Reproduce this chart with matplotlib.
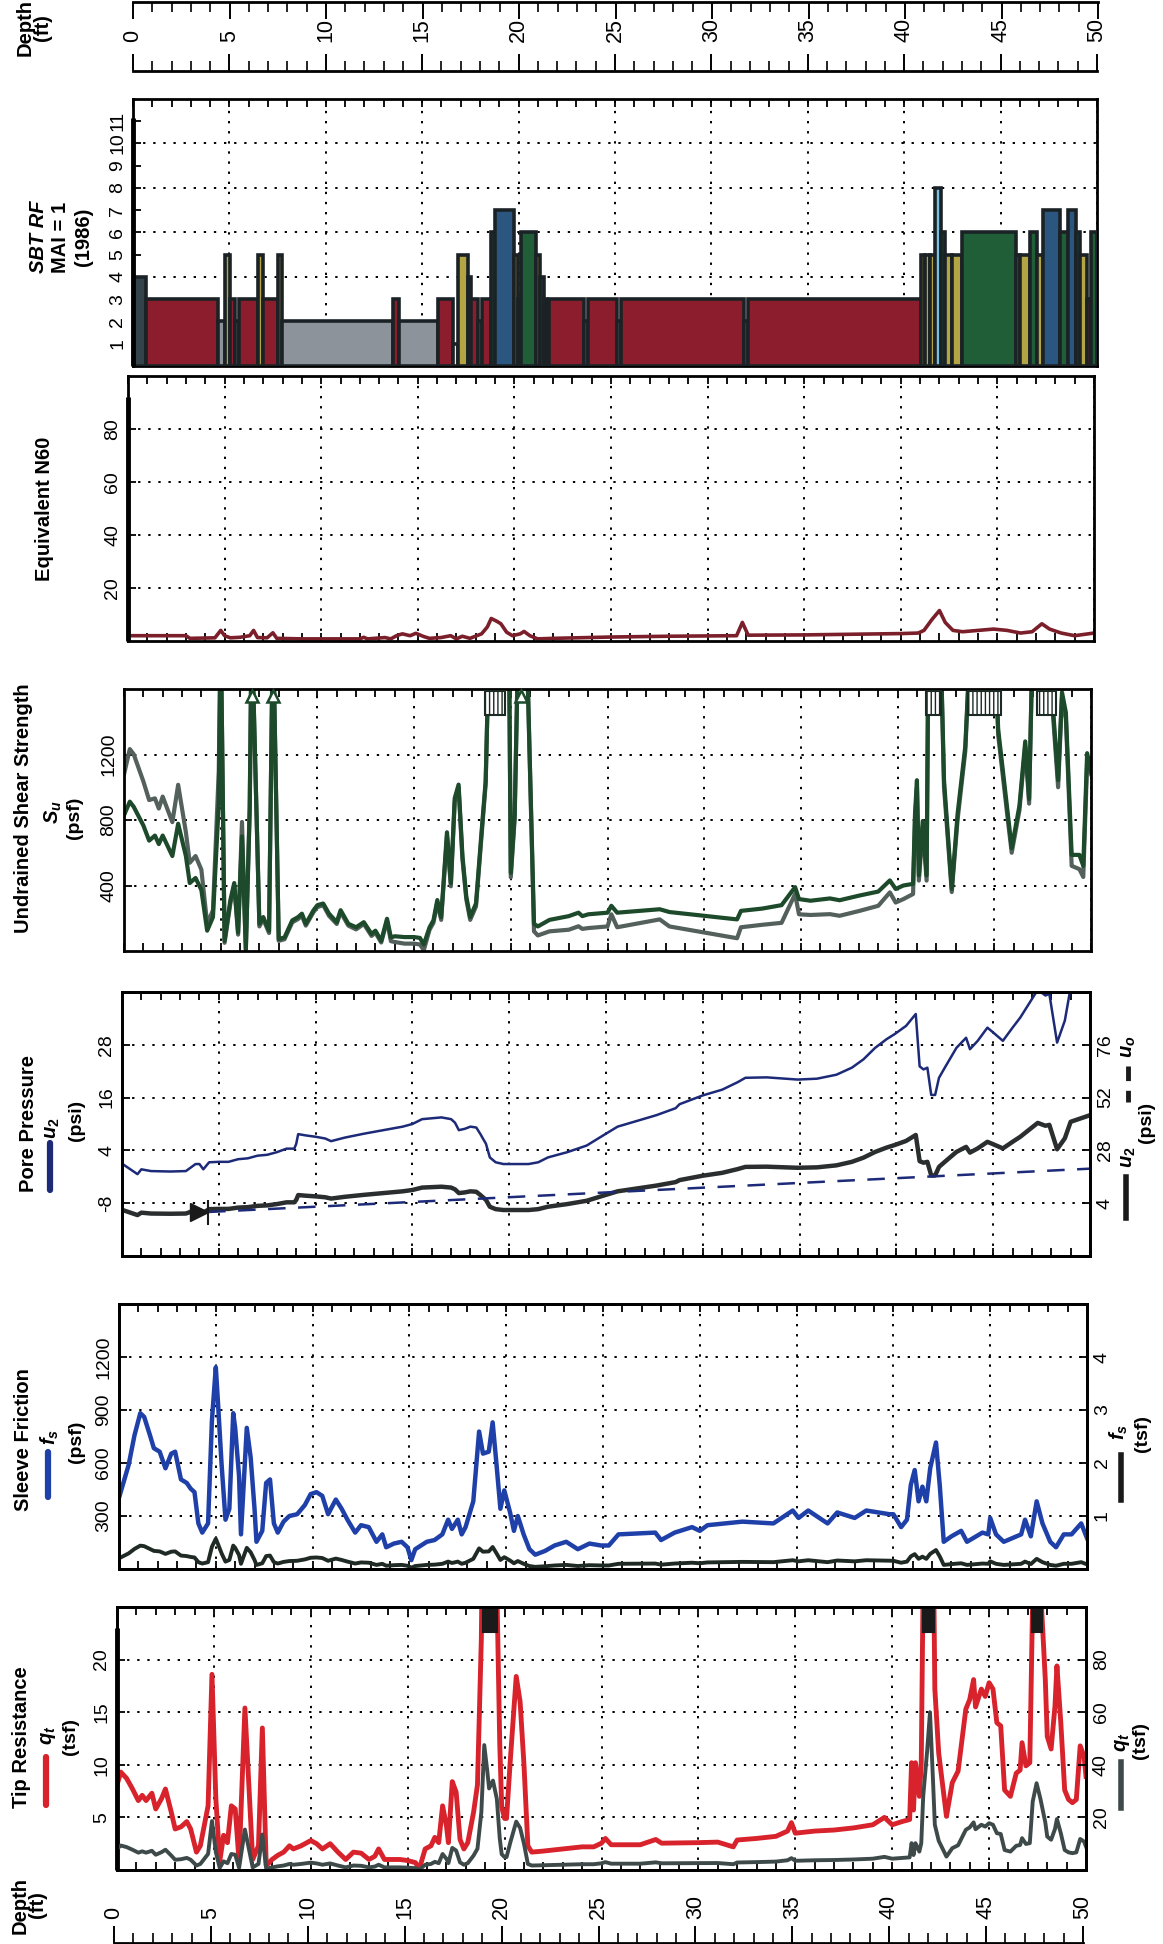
import numpy as np
import matplotlib.pyplot as plt
from matplotlib.ticker import MultipleLocator
from matplotlib.patches import Rectangle
from matplotlib.lines import Line2D

plt.rcParams['font.family'] = ['Liberation Sans', 'DejaVu Sans']
plt.rcParams['axes.unicode_minus'] = False
plt.rcParams['mathtext.fontset'] = 'custom'
plt.rcParams['mathtext.it'] = 'Liberation Sans:italic:bold'
plt.rcParams['mathtext.rm'] = 'Liberation Sans:bold'
plt.rcParams['mathtext.bf'] = 'Liberation Sans:bold'

### data (depth in ft) ###

# tip resistance qt (tsf)
qt_depth = [0, 0.2, 0.5, 0.8, 1.1, 1.3, 1.5, 1.8, 2.0, 2.3,
            2.5, 2.8, 3.0, 3.3, 3.6, 3.8, 4.1, 4.3, 4.5, 4.7,
            4.9, 5.1, 5.3, 5.5, 5.7, 5.9, 6.1, 6.3, 6.5, 6.6,
            6.8, 7.0, 7.3, 7.5, 7.7, 8.0, 8.3, 8.6, 8.9, 9.1,
            9.5, 9.8, 10.0, 10.3, 10.6, 11.0, 11.4, 11.8, 12.2, 12.6,
            13.0, 13.3, 13.5, 13.8, 14.2, 14.6, 15.0, 15.4, 15.6, 15.9,
            16.2, 16.4, 16.6, 16.8, 17.0, 17.1, 17.3, 17.5, 17.7, 17.9,
            18.1, 18.4, 18.6, 18.8, 18.95, 19.1, 19.2, 19.4, 19.6, 19.75,
            19.85, 20.0, 20.1, 20.3, 20.6, 20.8, 21.0, 21.2, 21.4, 22.0,
            23.0, 24.0, 24.6, 25.0, 25.2, 25.5, 27.0, 27.8, 28.1, 30.0,
            31.0, 31.8, 32.0, 33.0, 34.0, 34.6, 34.8, 35.0, 36.0, 37.0,
            38.0, 39.0, 39.6, 40.0, 40.5, 40.9, 41.0, 41.1, 41.2, 41.4,
            41.5, 41.6, 41.8, 41.95, 42.1, 42.2, 42.4, 42.8, 43.1, 43.4,
            43.8, 44.0, 44.2, 44.3, 44.6, 44.8, 45.0, 45.2, 45.4, 45.6,
            45.8, 46.1, 46.4, 46.6, 46.7, 46.9, 47.1, 47.25, 47.45, 47.65,
            47.9, 48.0, 48.2, 48.4, 48.5, 48.7, 48.9, 49.1, 49.3, 49.5,
            49.7, 49.9, 50.0]
qt_tsf = [8.1, 9.3, 8.7, 7.7, 6.6, 7.1, 6.6, 7.3, 5.8, 6.8,
          7.7, 5.5, 3.9, 4.1, 4.6, 3.9, 1.7, 2.3, 4.2, 6.1,
          18.6, 6.8, 0.8, 3.3, 2.6, 6.1, 5.8, 0.8, 10.6, 15.4,
          8.1, 1.0, 2.3, 13.5, 0.4, 1.0, 1.4, 1.7, 2.3, 2.0,
          2.3, 2.6, 2.8, 2.5, 2.0, 2.5, 1.7, 1.0, 1.7, 1.6,
          1.0, 1.3, 2.0, 1.0, 1.0, 1.0, 0.9, 0.7, 0.1, 2.0,
          2.3, 3.1, 2.6, 6.1, 4.2, 2.6, 8.4, 7.4, 2.9, 2.0,
          2.6, 5.5, 8.1, 22.0, 47.5, 38.0, 31.0, 34.0, 27.0, 12.0,
          6.0, 4.9, 4.9, 10.6, 18.4, 16.0, 10.0, 2.3, 1.7, 1.8,
          2.0, 2.2, 2.2, 2.55, 3.0, 2.4, 2.4, 2.9, 2.55, 2.6,
          2.65, 2.2, 2.85, 3.0, 3.2, 3.7, 4.5, 3.5, 3.7, 3.8,
          4.0, 4.3, 5.0, 4.3, 4.6, 4.8, 10.2, 5.7, 10.2, 7.0,
          10.2, 28.0, 45.0, 60.0, 35.0, 17.2, 11.1, 5.1, 8.3, 9.4,
          15.3, 16.2, 18.1, 15.5, 17.2, 16.5, 17.8, 17.2, 14.0, 13.7,
          7.6, 7.0, 9.2, 9.5, 12.1, 9.9, 10.2, 26.0, 33.0, 27.0,
          18.1, 12.7, 11.5, 15.6, 19.4, 14.0, 7.6, 6.7, 6.4, 6.7,
          11.8, 10.8, 8.9]
qt_offscale = [(18.9, 19.6), (41.6, 42.15), (47.2, 47.75)]

# sleeve friction fs (psf)
fs_depth = [0, 0.5, 0.8, 1.1, 1.3, 1.6, 1.8, 2.1, 2.4, 2.7,
            2.9, 3.2, 3.5, 3.7, 3.9, 4.1, 4.3, 4.6, 4.8, 5.0,
            5.1, 5.3, 5.5, 5.7, 5.9, 6.0, 6.2, 6.3, 6.6, 6.8,
            7.0, 7.1, 7.4, 7.6, 7.8, 8.0, 8.2, 8.5, 8.8, 9.2,
            9.6, 9.9, 10.2, 10.5, 10.8, 11.2, 11.5, 11.8, 12.2, 12.5,
            12.9, 13.3, 13.6, 13.8, 14.2, 14.6, 14.9, 15.1, 15.3, 15.6,
            15.9, 16.3, 16.7, 17.0, 17.2, 17.5, 17.7, 17.9, 18.3, 18.6,
            18.8, 19.1, 19.3, 19.5, 19.7, 19.9, 20.0, 20.2, 20.4, 20.6,
            20.9, 21.2, 21.5, 22.0, 22.5, 23.1, 23.7, 24.3, 24.9, 25.3,
            25.8, 27.7, 28.0, 28.7, 29.6, 30.0, 30.4, 32.2, 33.8, 34.8,
            35.1, 35.6, 36.6, 37.1, 38.0, 38.6, 39.8, 40.0, 40.4, 40.7,
            40.9, 41.1, 41.3, 41.5, 41.7, 41.9, 42.2, 42.4, 42.6, 43.0,
            43.5, 43.8, 44.6, 44.9, 45.0, 45.3, 45.7, 46.6, 46.8, 47.1,
            47.4, 47.7, 48.1, 48.4, 48.8, 49.2, 49.7, 50.0]
fs_psf = [403, 590, 757, 882, 861, 757, 684, 664, 570, 653,
          664, 507, 487, 455, 435, 258, 206, 258, 840, 1142,
          965, 590, 279, 341, 882, 799, 528, 196, 799, 632,
          341, 154, 216, 487, 507, 258, 206, 268, 300, 310,
          362, 424, 435, 414, 310, 393, 341, 279, 206, 248,
          237, 154, 196, 123, 144, 154, 123, 50, 112, 133,
          154, 164, 196, 279, 227, 279, 196, 237, 383, 778,
          653, 664, 830, 591, 341, 445, 403, 320, 216, 300,
          196, 112, 81, 102, 133, 154, 112, 144, 133, 133,
          196, 206, 164, 206, 237, 216, 248, 268, 258, 331,
          289, 331, 258, 320, 289, 331, 310, 310, 237, 279,
          476, 560, 383, 466, 383, 570, 716, 466, 154, 185,
          216, 154, 206, 196, 289, 196, 154, 196, 279, 185,
          383, 258, 154, 123, 196, 196, 258, 175]

# pore pressure u2 (psi) and hydrostatic u0
u2_depth = [0, 0.3, 0.8, 1.0, 1.5, 2.5, 3.3, 3.8, 4.0, 4.2,
            4.5, 5.0, 5.5, 6.0, 6.5, 7.0, 7.5, 8.0, 8.5, 8.9,
            9.0, 9.1, 9.5, 10.0, 10.5, 10.8, 11.5, 12.5, 13.5, 14.5,
            15.0, 15.5, 16.0, 16.5, 17.0, 17.2, 17.4, 17.7, 18.0, 18.3,
            18.5, 18.8, 19.0, 19.3, 19.7, 20.5, 21.0, 21.5, 22.0, 23.0,
            24.0, 25.0, 25.6, 26.6, 27.6, 28.6, 28.8, 30.0, 31.0, 31.8,
            32.2, 33.3, 34.9, 35.9, 36.9, 37.7, 38.3, 38.9, 39.5, 39.9,
            40.5, 41.0, 41.2, 41.4, 41.6, 41.8, 42.0, 42.2, 42.5, 43.1,
            43.6, 43.8, 44.2, 44.7, 45.0, 45.5, 46.0, 46.4, 46.9, 47.3,
            47.7, 47.9, 48.3, 48.7, 49.0, 50.0]
u2_psi = [1.0, 0.1, -1.4, -0.3, -0.7, -0.8, -0.7, 0.9, 0.9, -0.3,
          1.3, 1.4, 1.4, 2.0, 2.2, 2.8, 3.0, 3.6, 4.4, 4.4,
          5.5, 7.7, 7.4, 7.1, 6.7, 6.1, 6.9, 7.8, 8.6, 9.4,
          10.0, 11.1, 11.3, 11.5, 11.1, 10.3, 8.6, 8.9, 9.4, 9.2,
          7.8, 5.5, 2.4, 1.3, 0.9, 0.9, 0.9, 1.3, 2.4, 3.6,
          5.1, 7.8, 9.4, 10.7, 12.0, 13.6, 14.5, 16.5, 17.8, 19.5,
          20.5, 20.6, 20.1, 20.3, 21.2, 22.8, 24.7, 27.3, 29.3, 30.4,
          32.3, 35.0, 23.1, 22.4, 22.8, 16.6, 16.6, 20.5, 22.8, 27.3,
          29.6, 27.0, 28.9, 31.9, 30.8, 28.9, 31.9, 34.2, 37.7, 40.5,
          39.2, 39.6, 28.5, 33.5, 41.0, 44.0]
u0_depth = [4.45, 50.0]
u0_psi = [0.0, 19.7]
water_table = 4.45

# undrained shear strength Su (psf), two estimates
su_depth = [0, 0.3, 0.5, 1.0, 1.3, 1.6, 1.8, 2.0, 2.5, 2.8,
            3.2, 3.4, 3.7, 4.0, 4.3, 4.6, 4.9, 5.0, 5.2, 5.5,
            5.7, 5.9, 6.1, 6.3, 6.5, 6.6, 7.0, 7.2, 7.5, 7.7,
            8.0, 8.3, 8.7, 9.0, 9.2, 9.4, 9.8, 10.0, 10.3, 10.6,
            11.0, 11.2, 11.6, 12.0, 12.4, 12.8, 13.0, 13.3, 13.6, 13.8,
            14.0, 14.5, 15.0, 15.3, 15.5, 15.8, 16.0, 16.2, 16.4, 16.7,
            16.9, 17.1, 17.3, 17.5, 17.7, 17.9, 18.2, 18.5, 18.7, 18.9,
            19.9, 20.0, 20.2, 20.4, 20.8, 21.2, 21.4, 22.0, 23.0, 23.5,
            23.7, 24.0, 25.0, 25.2, 25.5, 27.7, 28.2, 31.7, 31.9, 33.0,
            34.0, 34.7, 34.9, 35.5, 36.5, 37.0, 38.0, 39.0, 39.6, 39.9,
            40.3, 40.8, 40.9, 41.0, 41.1, 41.3, 41.5, 41.6, 42.2, 42.4,
            42.8, 43.1, 43.5, 43.8, 45.0, 45.2, 45.7, 45.9, 46.3, 46.6,
            46.8, 47.0, 47.6, 48.0, 48.3, 48.5, 48.7, 49.0, 49.4, 49.6,
            49.8, 50.0]
su_green = [829, 912, 881, 767, 674, 705, 653, 705, 580, 777,
            580, 415, 446, 373, 124, 207, 900, 2000, 62, 311,
            415, 114, 700, 10, 850, 2000, 166, 207, 124, 2000,
            73, 83, 187, 207, 228, 166, 249, 280, 290, 228,
            176, 249, 166, 145, 176, 104, 124, 62, 197, 83,
            90, 85, 85, 80, 40, 145, 187, 311, 207, 725,
            415, 933, 1016, 580, 332, 207, 290, 746, 1036, 2000,
            2000, 477, 829, 2000, 2000, 166, 150, 190, 213, 234,
            213, 224, 234, 276, 234, 255, 238, 193, 245, 259,
            280, 390, 317, 307, 321, 310, 338, 363, 431, 379,
            400, 410, 835, 1043, 462, 794, 462, 2000, 2000, 1043,
            379, 835, 1250, 2000, 2000, 1354, 835, 628, 887, 1280,
            928, 2000, 2000, 1540, 1043, 1580, 1457, 587, 587, 520,
            1208, 1100]
su_gray = [1078, 1233, 1202, 1036, 922, 932, 870, 943, 787, 1015,
           725, 539, 580, 497, 166, 249, 1100, 2000, 50, 290,
           400, 100, 788, 5, 890, 2000, 150, 195, 110, 2000,
           62, 72, 175, 195, 215, 155, 238, 268, 280, 215,
           165, 238, 155, 132, 165, 92, 112, 52, 185, 60,
           55, 45, 45, 40, 5, 130, 172, 295, 190, 700,
           395, 910, 1000, 560, 315, 190, 272, 725, 1020, 2000,
           2000, 450, 810, 2000, 2000, 120, 95, 120, 130, 151,
           135, 140, 150, 224, 145, 193, 150, 78, 145, 160,
           172, 348, 224, 220, 225, 215, 244, 276, 358, 296,
           317, 348, 800, 1000, 430, 760, 430, 2000, 2000, 1000,
           360, 800, 1220, 2000, 2000, 1320, 800, 600, 860, 1250,
           900, 2000, 2000, 1500, 1000, 1550, 1420, 520, 500, 452,
           1150, 1080]
su_offscale = [(18.65, 19.7), (41.45, 42.25), (43.65, 45.35), (47.2, 48.2)]
su_arrows = [6.6, 7.7, 20.55]

# equivalent N60
n60_depth = [0, 3.0, 3.2, 4.5, 4.8, 5.0, 5.3, 5.8, 6.3, 6.5,
             6.7, 7.2, 7.5, 7.7, 9.0, 12.0, 12.2, 12.4, 13.3, 13.6,
             13.9, 14.2, 14.6, 14.9, 15.3, 15.6, 16.2, 16.7, 17.0, 17.3,
             17.7, 18.3, 18.6, 18.8, 19.1, 19.3, 19.6, 19.9, 20.3, 20.5,
             20.8, 21.2, 22.0, 25.0, 28.0, 31.5, 31.8, 32.1, 35.0, 38.0,
             40.0, 40.9, 41.2, 41.6, 42.0, 42.3, 42.7, 43.2, 44.0, 44.8,
             45.5, 46.2, 46.8, 47.3, 47.7, 48.3, 49.0, 49.5, 50.0]
n60 = [2.0, 2.0, 1.0, 1.2, 4.0, 2.0, 1.2, 1.4, 2.0, 4.0,
       1.3, 1.2, 3.1, 1.0, 0.8, 0.8, 1.4, 0.8, 1.3, 0.8,
       2.0, 2.7, 2.0, 2.9, 1.7, 1.0, 1.3, 2.0, 0.8, 1.8,
       1.0, 2.7, 5.3, 8.5, 7.4, 6.5, 3.3, 2.0, 2.7, 3.6,
       2.0, 0.8, 1.0, 1.5, 1.8, 2.0, 7.0, 2.2, 2.3, 2.6,
       2.8, 3.0, 4.0, 8.0, 11.5, 7.0, 4.0, 3.5, 4.0, 4.5,
       4.0, 3.0, 3.5, 6.5, 4.5, 3.0, 2.0, 2.5, 3.0]

# soil behaviour type (Robertson 1986): layer top, layer bottom, zone
sbt_top = [0.0, 0.7, 4.4, 4.75, 5.05, 5.3, 5.5, 6.5, 6.75, 7.5,
           7.75, 13.5, 13.8, 15.8, 16.6, 16.85, 17.35, 17.55, 17.9, 18.1,
           18.55, 18.8, 19.75, 19.95, 20.15, 20.9, 21.1, 21.3, 21.45, 21.6,
           23.4, 23.6, 25.1, 25.3, 31.7, 31.9, 40.85, 41.1, 41.35, 41.6,
           41.9, 42.1, 42.5, 43.0, 45.8, 46.0, 46.5, 46.9, 47.2, 48.1,
           48.5, 48.9, 49.1, 49.5, 49.7]
sbt_bot = sbt_top[1:] + [50.0]
sbt_zone = [4, 3, 2, 5, 3, 2, 3, 5, 3, 5,
            2, 3, 2, 3, 1, 5, 4, 3, 2, 3,
            6, 7, 5, 3, 6, 5, 4, 3, 2, 3,
            2, 3, 2, 3, 2, 3, 5, 5, 5, 8,
            6, 5, 5, 6, 5, 5, 6, 5, 7, 6,
            7, 6, 5, 3, 6]
zone_colors = {1: '#ececec', 2: '#8d939a', 3: '#8b1d2c', 4: '#34434a',
               5: '#b3a544', 6: '#1f5e36', 7: '#2b5680', 8: '#7cc0e0'}

### figure layout ###
W, H = 1163, 1944
fig = plt.figure(figsize=(W / 100, H / 100), dpi=100)


def box(x0, y0, x1, y1):
    # pixel box measured from the top-left corner -> figure fraction
    return [x0 / W, 1 - y1 / H, (x1 - x0) / W, (y1 - y0) / H]


def ftext(x, y, s, size=14.5, **kw):
    fig.text(x / W, 1 - y / H, s, rotation=90, ha='center', va='center',
             fontsize=size, fontweight='bold', **kw)


def fline(x, y0, y1, **kw):
    fig.add_artist(Line2D([x / W, x / W], [1 - y0 / H, 1 - y1 / H], **kw))


def style(ax, ylim, yticks, labels=None, grid_y=True):
    ax.set_xlim(0, 50)
    ax.set_ylim(*ylim)
    ax.xaxis.set_major_locator(MultipleLocator(5))
    ax.xaxis.set_minor_locator(MultipleLocator(1))
    ax.tick_params(axis='x', which='both', direction='in', top=True, bottom=True,
                   labelbottom=False, length=6, width=1.3)
    ax.set_yticks(yticks)
    if labels is not None:
        ax.set_yticklabels(labels)
    ax.tick_params(axis='y', direction='in', length=6, width=1.3, labelsize=14,
                   labelrotation=90, pad=5)
    plt.setp(ax.get_yticklabels(), va='center')
    ax.xaxis.grid(True, color='black', linestyle=(0, (1.2, 4)), linewidth=1.4)
    if grid_y:
        ax.yaxis.grid(True, color='black', linestyle=(0, (1.2, 4)), linewidth=1.4)
    for sp in ax.spines.values():
        sp.set_linewidth(2)


def twin(ax, ylim, yticks):
    ax2 = ax.twinx()
    ax2.set_ylim(*ylim)
    ax2.set_yticks(yticks)
    ax2.tick_params(axis='y', direction='in', length=6, width=1.3, labelsize=14,
                    labelrotation=90, pad=5)
    plt.setp(ax2.get_yticklabels(), va='center')
    for sp in ax2.spines.values():
        sp.set_linewidth(2)
    return ax2


def depth_axis(x0, x1, y, labels=True, down=False, pad=5):
    ax = fig.add_axes([x0 / W, 1 - y / H, (x1 - x0) / W, 0.0001])
    ax.set_xlim(0, 50)
    ax.set_yticks([])
    ax.patch.set_visible(False)
    side = 'bottom' if down else 'top'
    for s in ['left', 'right', 'top', 'bottom']:
        ax.spines[s].set_visible(s == side)
    ax.spines[side].set_linewidth(2)
    ax.xaxis.set_ticks_position(side)
    ax.xaxis.set_major_locator(MultipleLocator(5))
    ax.xaxis.set_minor_locator(MultipleLocator(1))
    ax.tick_params(axis='x', which='major', direction='out', length=12, width=1.4)
    ax.tick_params(axis='x', which='minor', direction='out', length=7, width=1.2)
    ax.tick_params(axis='x', labeltop=labels and not down, labelbottom=False,
                   labelrotation=90, labelsize=15.5, pad=pad)
    return ax


def left_stub(ax, frac):
    # heavier partial spine seen on some tracks
    ax.plot([0, 0], [0, frac], transform=ax.transAxes, color='black', lw=3.5,
            clip_on=False, solid_capstyle='butt', zorder=5)


### top depth scale ###
depth_axis(133, 1098, 2, labels=False, down=True)
depth_axis(133, 1097, 71, pad=9)
ftext(25, 28, 'Depth', size=14.5)
ftext(43, 28, '(ft)', size=14.5)

### SBT ###
ax_sbt = fig.add_axes(box(133, 99, 1097, 366))
style(ax_sbt, (0, 12), list(range(1, 12)), grid_y=False)
for g in [4, 6, 8, 10]:
    ax_sbt.axhline(g, color='black', linestyle=(0, (1.2, 4)), linewidth=1.4, zorder=0)
ax_sbt.set_axisbelow(True)
for d0, d1, z in zip(sbt_top, sbt_bot, sbt_zone):
    ax_sbt.bar(d0, z, width=d1 - d0, align='edge', color=zone_colors[z],
               edgecolor='#1b2226', linewidth=2.6, zorder=3)
left_stub(ax_sbt, 0.93)
ftext(38, 237, 'SBT RF', size=14.5, style='italic')
ftext(61, 237, 'MAI = 1', size=14.5)
ftext(83, 237, '(1986)', size=14.5)

### N60 ###
ax_n60 = fig.add_axes(box(128, 376, 1094, 641))
style(ax_n60, (0, 100), [20, 40, 60, 80])
ax_n60.plot(n60_depth, n60, color='#7b1f2b', lw=2.6)
left_stub(ax_n60, 0.92)
ftext(44, 509, 'Equivalent N60')

### Su ###
ax_su = fig.add_axes(box(124, 689, 1091, 951))
style(ax_su, (0, 1600), [400, 800, 1200])
ax_su.plot(su_depth, su_gray, color='#53605c', lw=3.0)
ax_su.plot(su_depth, su_green, color='#1c4a2a', lw=3.0)
for a, b in su_offscale:
    ax_su.add_patch(Rectangle((a, 1440), b - a, 150, facecolor='white',
                              edgecolor='#1b2a22', hatch='||||', lw=1.5, zorder=4))
ax_su.plot(su_arrows, [1560] * len(su_arrows), linestyle='none', marker='^',
           markersize=9, markerfacecolor='white', markeredgecolor='#1c4a2a',
           markeredgewidth=1.8, zorder=5, clip_on=False)
ftext(24, 808, 'Undrained Shear Strength')
ftext(53, 812, r'$S_u$', size=14.5)
ftext(75, 818, '(psf)', size=14)

### pore pressure ###
ax_pp = fig.add_axes(box(122, 992, 1090, 1256))
style(ax_pp, (-20, 40), [-8, 4, 16, 28])
ax_pp.plot(u2_depth, u2_psi, color='#1d2a78', lw=1.8)
ax_pp2 = twin(ax_pp, (-20, 100), [4, 28, 52, 76])
ax_pp2.plot(u2_depth, u2_psi, color='#2a2e2e', lw=3.2)
ax_pp2.plot(u0_depth, u0_psi, color='#1d2a78', lw=1.8, linestyle=(0, (7, 5)))
ax_pp2.plot([water_table - 0.45], [0], marker='>', color='#1a1a1a', markersize=13)
ax_pp2.plot([water_table], [0], marker='|', color='#1a1a1a', markersize=18, markeredgewidth=1.5)
ftext(28, 1124, 'Pore Pressure')
fline(50, 1143, 1190, color='#1d2a78', lw=4.5, solid_capstyle='round')
ftext(53, 1128, r'$u_2$', size=14.5)
ftext(76, 1120, '(psi)', size=14)
ftext(1128, 1047, r'$u_o$', size=14.5)
fline(1128, 1066, 1102, color='#1a1a1a', lw=3.5, linestyle=(0, (3, 2)))
ftext(1128, 1157, r'$u_2$', size=14.5)
fline(1126, 1177, 1218, color='#1a1a1a', lw=4)
ftext(1146, 1122, '(psi)', size=14)

### sleeve friction ###
ax_fs = fig.add_axes(box(119, 1304, 1087, 1569))
style(ax_fs, (0, 1500), [300, 600, 900, 1200])
ax_fs.plot(fs_depth, fs_psf, color='#1f40a8', lw=3.2)
ax_fs2 = twin(ax_fs, (0, 5), [1, 2, 3, 4])
ax_fs2.plot(fs_depth, np.array(fs_psf) / 2000.0, color='#1f2a25', lw=2.8)
ftext(24, 1440, 'Sleeve Friction')
fline(48, 1452, 1497, color='#1f40a8', lw=4.5, solid_capstyle='round')
ftext(50, 1437, r'$f_s$', size=14.5)
ftext(76, 1442, '(psf)', size=14)
ftext(1119, 1432, r'$f_s$', size=14.5)
fline(1121, 1455, 1500, color='#1a1a1a', lw=4)
ftext(1142, 1433, '(tsf)', size=14)

### tip resistance ###
ax_qt = fig.add_axes(box(117, 1607, 1086, 1870))
style(ax_qt, (0, 25), [5, 10, 15, 20])
ax_qt.plot(qt_depth, qt_tsf, color='#d8222c', lw=3.5)
left_stub(ax_qt, 0.92)
ax_qt2 = twin(ax_qt, (0, 100), [20, 40, 60, 80])
ax_qt2.plot(qt_depth, qt_tsf, color='#3e4a4a', lw=2.8)
for a, b in qt_offscale:
    ax_qt.add_patch(Rectangle((a, 22.6), b - a, 2.4, facecolor='#1a1a1a',
                              edgecolor='#1a1a1a', lw=1.5, zorder=6))
ftext(22, 1737, 'Tip Resistance')
fline(46, 1757, 1805, color='#d8222c', lw=4.5, solid_capstyle='round')
ftext(48, 1735, r'$q_t$', size=14.5)
ftext(71, 1736, '(tsf)', size=14)
ftext(1123, 1742, r'$q_t$', size=14.5)
fline(1121, 1762, 1808, color='#3e4a4a', lw=4)
ftext(1141, 1740, '(tsf)', size=14)

### bottom depth scale ###
depth_axis(114, 1083, 1943)
ftext(20, 1905, 'Depth', size=14.5)
ftext(38, 1905, '(ft)', size=14.5)

fig.savefig('out.png', dpi=100, facecolor='white')
